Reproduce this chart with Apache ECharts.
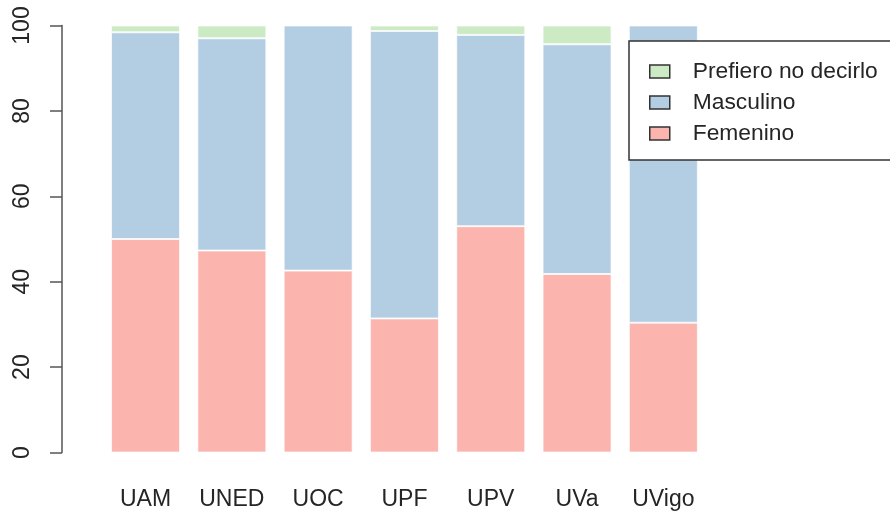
<!DOCTYPE html>
<html>
<head>
<meta charset="utf-8">
<script src="https://cdn.jsdelivr.net/npm/echarts@6/dist/echarts.min.js"></script>
<style>
    html, body { margin: 0; padding: 0; background: #fff; }
    #chart { width: 890px; height: 514px; }
</style>
</head>
<body>
<div id="chart"></div>
<script>
// universidades y porcentajes por genero
let universidades = ['UAM', 'UNED', 'UOC', 'UPF', 'UPV', 'UVa', 'UVigo'];
let femenino = [50.0, 47.3, 42.6, 31.4, 53.0, 41.8, 30.4];
let masculino = [48.4, 49.7, 57.4, 67.3, 44.8, 53.8, 69.6];
let prefiero = [1.6, 3.0, 0, 1.3, 2.2, 4.4, 0];
let y_ticks = [0, 20, 40, 60, 80, 100];

let fuente = '"Liberation Sans", Arial, sans-serif';
let texto = '#252525';

let myChart = echarts.init(document.getElementById('chart'));

function serie(nombre, datos, color) {
    return {
        name: nombre,
        type: 'bar',
        stack: 'total',
        data: datos,
        barWidth: 69,
        itemStyle: {
            color: color,
            borderColor: 'rgba(255,255,255,0.7)',
            borderWidth: 1
        },
        emphasis: { disabled: true }
    };
}

let option = {
    animation: false,
    textStyle: { fontFamily: fuente },
    grid: {
        left: 102.4,
        right: 183.5,
        top: 25.5,
        bottom: 61.5,
        containLabel: false
    },
    legend: {
        data: ['Prefiero no decirlo', 'Masculino', 'Femenino'],
        orient: 'vertical',
        left: 629,
        top: 41,
        padding: [19, 60, 15, 20],
        itemGap: 8,
        itemWidth: 20,
        itemHeight: 13,
        icon: 'rect',
        borderColor: '#333',
        borderWidth: 1.5,
        backgroundColor: '#fff',
        itemStyle: { borderColor: '#333', borderWidth: 1.5 },
        textStyle: {
            fontFamily: fuente,
            fontSize: 22.8,
            color: texto,
            lineHeight: 22,
            padding: [0, 0, 0, 18]
        },
        selectedMode: false
    },
    xAxis: {
        type: 'category',
        data: universidades,
        axisLine: { show: false },
        axisTick: { show: false },
        axisLabel: {
            margin: 36,
            fontSize: 23,
            color: texto,
            fontFamily: fuente
        }
    },
    yAxis: {
        type: 'value',
        min: 0,
        max: 100,
        interval: 20,
        offset: 40.4,
        splitLine: { show: false },
        axisLine: { show: true, lineStyle: { color: '#555', width: 1.5 } },
        axisTick: { show: true, length: 12, lineStyle: { color: '#555', width: 1.5 } },
        axisLabel: {
            rotate: 90,
            margin: 28,
            fontSize: 23,
            color: texto,
            fontFamily: fuente,
            formatter: function (v) {
                return y_ticks.indexOf(v) >= 0 ? String(v) : '';
            }
        }
    },
    series: [
        serie('Femenino', femenino, '#FBB4AE'),
        serie('Masculino', masculino, '#B3CDE3'),
        serie('Prefiero no decirlo', prefiero, '#CCEBC5')
    ]
};

myChart.setOption(option);
</script>
</body>
</html>
